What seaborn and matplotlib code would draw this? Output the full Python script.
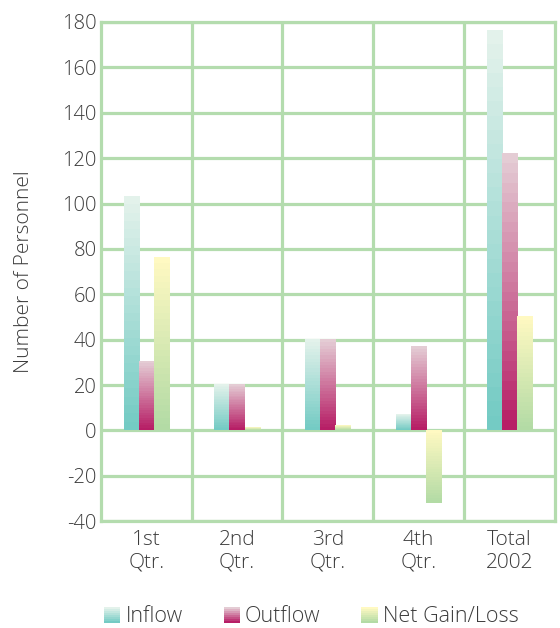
import numpy as np
import pandas as pd
import matplotlib
matplotlib.use("Agg")
import matplotlib.pyplot as plt
import seaborn as sns
from matplotlib.colors import LinearSegmentedColormap
from matplotlib.patches import Rectangle
from matplotlib.legend_handler import HandlerBase

# data
quarters = ["1st\nQtr.", "2nd\nQtr.", "3rd\nQtr.", "4th\nQtr.", "Total\n2002"]
series = ["Inflow", "Outflow", "Net Gain/Loss"]
inflow = [103, 20, 40, 7, 176]
outflow = [30, 20, 40, 37, 122]
net_gain = [76, 1, 2, -32, 50]
yticks = list(range(-40, 181, 20))

# (dark bottom, light top) per series
grads = {
    "Inflow": ("#74cbc4", "#e3f2eb"),
    "Outflow": ("#b71e66", "#e4ccd4"),
    "Net Gain/Loss": ("#b3dba5", "#fff9c2"),
}
grid_col = "#b4dcae"
text_col = "#3c3c3c"

df = pd.DataFrame({
    "quarter": quarters * 3,
    "series": [s for s in series for _ in quarters],
    "value": inflow + outflow + net_gain,
})

sns.set_style("white")
plt.rcParams["font.family"] = ["Open Sans", "DejaVu Sans"]

fig = plt.figure(figsize=(5.6, 6.28), dpi=100)
ax = fig.add_axes([0.18, 0.17, 0.811, 0.795])

sns.barplot(data=df, x="quarter", y="value", hue="series", hue_order=series,
            order=quarters, width=0.5, saturation=1, legend=False, ax=ax,
            palette=[grads[s][0] for s in series])

cmaps = {s: LinearSegmentedColormap.from_list(s, grads[s]) for s in series}
grad = np.linspace(0, 1, 28).reshape(-1, 1)

# replace each bar with a vertical gradient image
for s, cont in zip(series, ax.containers):
    for bar in cont:
        x = bar.get_x()
        w = bar.get_width()
        y = bar.get_y()
        h = bar.get_height()
        y0, y1 = min(y, y + h), max(y, y + h)
        ax.imshow(grad, cmap=cmaps[s], origin="lower", aspect="auto",
                  extent=[x, x + w, y0, y1], interpolation="nearest", zorder=2)
        bar.set_visible(False)

ax.set_xlim(-0.5, len(quarters) - 0.5)
ax.set_ylim(-40, 180)
ax.set_yticks(yticks)
ax.set_yticklabels([str(v) for v in yticks])
ax.set_xticks(range(len(quarters)))
ax.set_xticklabels(quarters)
ax.set_xticks([i + 0.5 for i in range(len(quarters) - 1)], minor=True)

ax.set_axisbelow(True)
ax.yaxis.grid(True, color=grid_col, lw=2.3)
ax.xaxis.grid(True, which="minor", color=grid_col, lw=2.3)
for sp in ax.spines.values():
    sp.set_color(grid_col)
    sp.set_linewidth(2.3)

ax.tick_params(axis="both", which="both", length=0, labelcolor=text_col)
ax.tick_params(axis="y", pad=3, labelsize=14.5)
ax.tick_params(axis="x", pad=6, labelsize=15)
for t in ax.get_xticklabels() + ax.get_yticklabels():
    t.set_fontweight(300)
for t in ax.get_xticklabels():
    t.set_linespacing(1.2)

ax.set_xlabel("")
ax.set_ylabel("Number of Personnel", fontsize=15, color=text_col,
              fontweight=300, labelpad=20)


class GradHandler(HandlerBase):
    def __init__(self, cmap, n=8):
        super().__init__()
        self.cmap = cmap
        self.n = n

    def create_artists(self, legend, orig_handle, xdescent, ydescent,
                       width, height, fontsize, trans):
        arts = []
        for i in range(self.n):
            r = Rectangle((-xdescent, -ydescent + i * height / self.n),
                          width, height / self.n,
                          facecolor=self.cmap(i / (self.n - 1)),
                          edgecolor="none", transform=trans)
            arts.append(r)
        return arts


handles = [Rectangle((0, 0), 1, 1, label=s) for s in series]
leg = fig.legend(handles=handles, labels=series, ncol=3, loc="center",
                 bbox_to_anchor=(0.556, 0.018), frameon=False,
                 fontsize=15.5, handlelength=0.75, handleheight=0.75,
                 handletextpad=0.25, columnspacing=1.9,
                 handler_map={h: GradHandler(cmaps[s]) for h, s in zip(handles, series)})
for t in leg.get_texts():
    t.set_color(text_col)
    t.set_fontweight(300)

fig.savefig("out.png", dpi=100)
